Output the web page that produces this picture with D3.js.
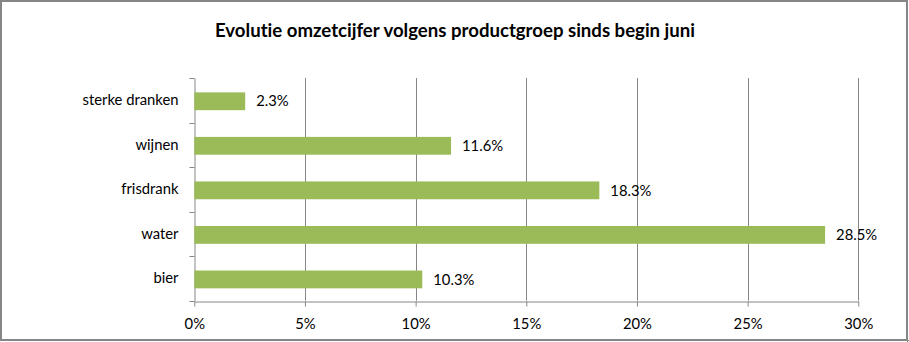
<!DOCTYPE html>
<html><head><meta charset="utf-8">
<script src="https://cdn.jsdelivr.net/npm/d3@7"></script>
<style>
html,body{margin:0;padding:0;background:#fff;}
svg{display:block;}
text{font-family:Lato,"Open Sans",sans-serif;fill:#000;font-variant-ligatures:none;}
</style></head>
<body>
<script>
const categories = ["sterke dranken","wijnen","frisdrank","water","bier"];
const values = [0.023,0.116,0.183,0.285,0.103];
const valueLabels = ["2.3%","11.6%","18.3%","28.5%","10.3%"];
const xTicks = [0,0.05,0.10,0.15,0.20,0.25,0.30];
const title = "Evolutie omzetcijfer volgens productgroep sinds begin juni";

(function(){
const W=909,H=342;
const FS="14.8px";
const svg=d3.select("body").append("svg").attr("width",W).attr("height",H);
svg.append("rect").attr("x",1).attr("y",1).attr("width",W-3).attr("height",H-3)
  .attr("fill","#fff").attr("stroke","#868686").attr("stroke-width",2);
svg.append("line").attr("x1",2).attr("x2",W).attr("y1",H-1.5).attr("y2",H-1.5).attr("stroke","#868686").attr("stroke-width",1);
svg.append("line").attr("x1",W-1.5).attr("x2",W-1.5).attr("y1",2).attr("y2",H).attr("stroke","#868686").attr("stroke-width",1);

const pL=194.3,pR=858.3,pT=78,pB=300.7;
const x=d3.scaleLinear().domain([0,0.30]).range([pL,pR]);
const y=d3.scaleBand().domain(categories).range([pT,pB]).paddingInner(0.6).paddingOuter(0.3);

svg.append("text").attr("x",455).attr("y",36.5).attr("text-anchor","middle")
  .style("font-size","18.6px").style("font-weight","bold").text(title);

const g=svg.append("g");
g.selectAll(".grid").data(xTicks.slice(1)).enter().append("line")
  .attr("x1",d=>Math.round(x(d))+0.5).attr("x2",d=>Math.round(x(d))+0.5)
  .attr("y1",pT).attr("y2",pB).attr("stroke","#868686").attr("stroke-width",1);

const xAxis=d3.axisBottom(x).tickValues(xTicks).tickFormat(d3.format(".0%")).tickSize(5).tickSizeOuter(0);
const xa=svg.append("g").attr("transform",`translate(0,${Math.round(pB)+0.5})`).call(xAxis);
xa.select(".domain").attr("stroke","#868686");
xa.selectAll(".tick line").attr("stroke","#868686");
xa.selectAll(".tick text").style("font-size",FS).attr("dy","1.3em").style("font-family","Lato,'Open Sans',sans-serif");

const ya=svg.append("g").attr("transform",`translate(${Math.round(pL)+0.5},0)`)
  .call(d3.axisLeft(y).tickSize(0).tickSizeOuter(0).tickPadding(16));
ya.select(".domain").attr("stroke","#868686");
ya.selectAll(".tick text").style("font-size",FS).style("font-family","Lato,'Open Sans',sans-serif");
const bounds=d3.range(categories.length+1).map(i=>pT+i*(pB-pT)/categories.length);
ya.selectAll(".bt").data(bounds).enter().append("line")
  .attr("x1",-5).attr("x2",0).attr("y1",d=>Math.round(d)+0.5).attr("y2",d=>Math.round(d)+0.5)
  .attr("stroke","#868686");

svg.selectAll(".bar").data(values).enter().append("rect")
  .attr("x",x(0)).attr("y",(d,i)=>y(categories[i])+1)
  .attr("width",d=>x(d)-x(0)).attr("height",y.bandwidth())
  .attr("fill","#9BBB59");
svg.selectAll(".vl").data(values).enter().append("text")
  .attr("x",d=>x(d)+11).attr("y",(d,i)=>y(categories[i])+1+y.bandwidth()/2).attr("dy","0.35em")
  .style("font-size",FS).text((d,i)=>valueLabels[i]);
})();
</script>
</body></html>
